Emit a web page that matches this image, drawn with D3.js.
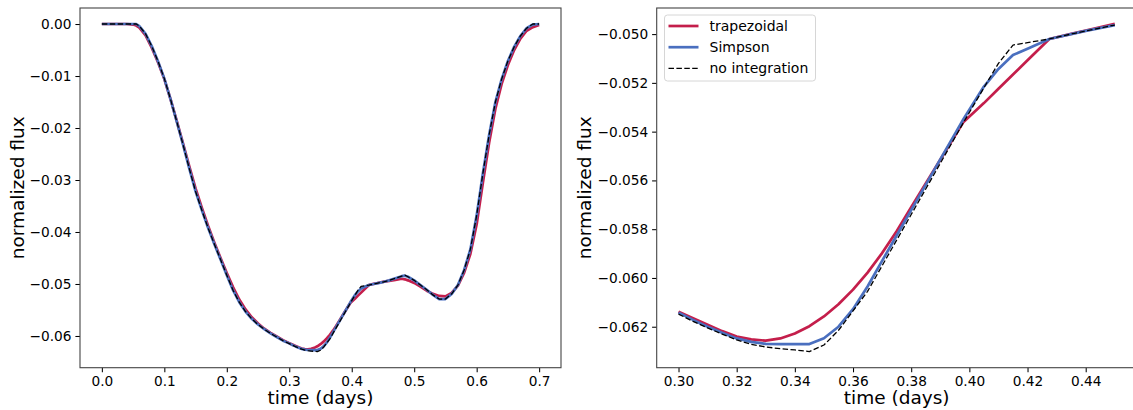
<!DOCTYPE html>
<meta charset="utf-8">
<style>

body { margin: 0; background: #fff; }
svg { font-family: "DejaVu Sans", sans-serif; }
.axis-label { font-size: 18.5px; fill: #000; }

</style>
<body>

<!-- load the d3.js library -->
<script src="https://d3js.org/d3.v7.min.js"></script>
<script>

// time grid (days) shared by the three light curves
var time = [0.00, 0.02, 0.04, 0.05, 0.055, 0.06, 0.07, 0.08, 0.09, 0.10,
  0.11, 0.12, 0.13, 0.14, 0.15, 0.16, 0.17, 0.18, 0.19, 0.20,
  0.21, 0.22, 0.23, 0.24, 0.25, 0.26, 0.27, 0.28, 0.29, 0.30,
  0.305, 0.31, 0.315, 0.32, 0.325, 0.33, 0.335, 0.34, 0.345, 0.35,
  0.355, 0.36, 0.365, 0.37, 0.375, 0.38, 0.385, 0.39, 0.395, 0.398,
  0.405, 0.41, 0.415, 0.42, 0.4275, 0.435, 0.44, 0.45, 0.46, 0.47,
  0.48, 0.485, 0.49, 0.50, 0.51, 0.52, 0.53, 0.54, 0.55, 0.56,
  0.57, 0.58, 0.59, 0.60, 0.61, 0.62, 0.63, 0.64, 0.65, 0.66,
  0.67, 0.68, 0.69, 0.70];

var trapezoidal = [0, 0, 0, -0.0001, -0.0003, -0.0007, -0.0022, -0.0046, -0.0074, -0.0106,
  -0.0145, -0.0187, -0.0230, -0.0274, -0.0316, -0.0353, -0.0388, -0.0420, -0.0450, -0.0479,
  -0.0506, -0.0530, -0.0549, -0.0564, -0.0576, -0.0586, -0.0594, -0.0601, -0.0608, -0.06138,
  -0.06165, -0.06192, -0.06218, -0.06240, -0.06252, -0.06257, -0.06248, -0.06228, -0.06198, -0.06158,
  -0.06108, -0.06048, -0.05978, -0.05898, -0.05808, -0.05710, -0.05612, -0.05515, -0.05418, -0.05360,
  -0.05283, -0.05224, -0.05166, -0.05107, -0.05020, -0.04999, -0.04986, -0.04958, -0.0494, -0.0492,
  -0.0490, -0.0491, -0.0493, -0.0498, -0.0505, -0.0513, -0.0519, -0.0523, -0.0524, -0.0517,
  -0.0503, -0.0478, -0.0442, -0.0385, -0.0305, -0.0228, -0.0163, -0.0115, -0.0079, -0.0050,
  -0.0028, -0.0013, -0.0006, -0.0002];

var simpson = [0, 0, 0, 0, 0, -0.0004, -0.0019, -0.0043, -0.0072, -0.0105,
  -0.0145, -0.0188, -0.0232, -0.0278, -0.0322, -0.0358, -0.0392, -0.0423, -0.0453, -0.0483,
  -0.0512, -0.0535, -0.0553, -0.0567, -0.0578, -0.0587, -0.0595, -0.0602, -0.0609, -0.06142,
  -0.06172, -0.06200, -0.06225, -0.06248, -0.06262, -0.06270, -0.06271, -0.06271, -0.06271, -0.06247,
  -0.06200, -0.06128, -0.06035, -0.05930, -0.05826, -0.05722, -0.05618, -0.05514, -0.05410, -0.05348,
  -0.05215, -0.05143, -0.05086, -0.05060, -0.05020, -0.05000, -0.04987, -0.04963, -0.0493, -0.0489,
  -0.0485, -0.0484, -0.0486, -0.0493, -0.0502, -0.0511, -0.0521, -0.0529, -0.0529, -0.0519,
  -0.0502, -0.0473, -0.0433, -0.0368, -0.0287, -0.0213, -0.0150, -0.0106, -0.0071, -0.0044,
  -0.0023, -0.0008, -0.0001, 0];

var noIntegration = [0, 0, 0, 0, 0, -0.0004, -0.0019, -0.0043, -0.0072, -0.0105,
  -0.0145, -0.0188, -0.0232, -0.0278, -0.0322, -0.0358, -0.0392, -0.0423, -0.0453, -0.0483,
  -0.0512, -0.0535, -0.0553, -0.0567, -0.0578, -0.0587, -0.0595, -0.0602, -0.0609, -0.06148,
  -0.06178, -0.06205, -0.06230, -0.06254, -0.06272, -0.06283, -0.06290, -0.06295, -0.06302, -0.06275,
  -0.06215, -0.06135, -0.06055, -0.05950, -0.05845, -0.05740, -0.05635, -0.05530, -0.05425, -0.05362,
  -0.05220, -0.05120, -0.05045, -0.05035, -0.05020, -0.05000, -0.04987, -0.04963, -0.0493, -0.0489,
  -0.0485, -0.0483, -0.0486, -0.0493, -0.0502, -0.0511, -0.0521, -0.0529, -0.0529, -0.0519,
  -0.0502, -0.0473, -0.0433, -0.0368, -0.0287, -0.0213, -0.0150, -0.0106, -0.0071, -0.0044,
  -0.0023, -0.0008, 0, 0];

var seriesNames = ["trapezoidal", "Simpson", "no integration"];

// tick labels
var leftXTicks = [0.0, 0.1, 0.2, 0.3, 0.4, 0.5, 0.6, 0.7];
var leftYTicks = [0.00, -0.01, -0.02, -0.03, -0.04, -0.05, -0.06];
var rightXTicks = [0.30, 0.32, 0.34, 0.36, 0.38, 0.40, 0.42, 0.44];
var rightYTicks = [-0.050, -0.052, -0.054, -0.056, -0.058, -0.060, -0.062];

var series = [
  {name: seriesNames[0], values: trapezoidal, color: "#c41e4b", width: 2.7, dash: null},
  {name: seriesNames[1], values: simpson, color: "#4a6fbf", width: 2.7, dash: null},
  {name: seriesNames[2], values: noIntegration, color: "#000", width: 1.3, dash: "5.5,2.4"}
];

var svg = d3.select("body").append("svg")
    .attr("width", 1133)
    .attr("height", 410);

function styleAxis(a) {
  a.select(".domain").remove();
  a.selectAll(".tick line").attr("stroke", "#000").attr("stroke-width", 1.05);
  a.selectAll(".tick text")
      .attr("fill", "#000")
      .style("font-family", "'DejaVu Sans', sans-serif")
      .style("font-size", "13.7px");
}

function drawPanel(opt) {
  var x = d3.scaleLinear().domain(opt.xDomain).range([opt.left, opt.right]);
  var y = d3.scaleLinear().domain(opt.yDomain).range([opt.bottom, opt.top]);
  var g = svg.append("g");

  // the curves, limited to the time range of the panel
  series.forEach(function(s) {
    var pts = time.map(function(t, i) { return {t: t, v: s.values[i]}; })
        .filter(function(d) { return d.t >= opt.tMin - 1e-9 && d.t <= opt.tMax + 1e-9; });
    g.append("path")
        .datum(pts)
        .attr("fill", "none")
        .attr("stroke", s.color)
        .attr("stroke-width", s.width)
        .attr("stroke-dasharray", s.dash)
        .attr("stroke-linejoin", "round")
        .attr("d", d3.line().x(function(d) { return x(d.t); }).y(function(d) { return y(d.v); }));
  });

  // axes
  g.append("g")
      .attr("transform", "translate(0," + opt.bottom + ")")
      .call(d3.axisBottom(x).tickValues(opt.xTicks).tickFormat(d3.format(opt.xFmt)).tickSize(4.6).tickPadding(4))
      .call(styleAxis);
  g.append("g")
      .attr("transform", "translate(" + opt.left + ",0)")
      .call(d3.axisLeft(y).tickValues(opt.yTicks).tickFormat(d3.format(opt.yFmt)).tickSize(4.6).tickPadding(4))
      .call(styleAxis);

  // frame
  g.append("rect")
      .attr("x", opt.left)
      .attr("y", opt.top)
      .attr("width", opt.right - opt.left)
      .attr("height", opt.bottom - opt.top)
      .attr("fill", "none")
      .attr("stroke", "#444")
      .attr("stroke-width", 1.1);

  g.append("text")
      .attr("class", "axis-label")
      .attr("text-anchor", "middle")
      .attr("x", (opt.left + opt.right) / 2)
      .attr("y", 403.5)
      .text("time (days)");
  g.append("text")
      .attr("class", "axis-label")
      .attr("text-anchor", "middle")
      .attr("transform", "translate(" + opt.yLabelX + "," + (opt.top + opt.bottom) / 2 + ") rotate(-90)")
      .text("normalized flux");

  if (opt.legend) {
    var lg = g.append("g");
    lg.append("rect")
        .attr("x", 664.5).attr("y", 15)
        .attr("width", 151).attr("height", 66)
        .attr("rx", 3)
        .attr("fill", "#fff")
        .attr("fill-opacity", 0.8)
        .attr("stroke", "#d6d6d6");
    series.forEach(function(s, i) {
      var yy = 26 + i * 21.2;
      lg.append("line")
          .attr("x1", 668.5).attr("x2", 698.5)
          .attr("y1", yy).attr("y2", yy)
          .attr("stroke", s.color)
          .attr("stroke-width", s.width)
          .attr("stroke-dasharray", s.dash);
      lg.append("text")
          .attr("x", 709.5)
          .attr("y", yy)
          .attr("dy", "0.35em")
          .style("font-size", "14px")
          .text(s.name);
    });
  }
}

drawPanel({
  left: 80, right: 561, top: 8, bottom: 367.7,
  xDomain: [-0.035, 0.735], yDomain: [-0.0661, 0.00308],
  xTicks: leftXTicks, yTicks: leftYTicks, xFmt: ".1f", yFmt: ".2f",
  tMin: 0, tMax: 0.7, yLabelX: 23.5, legend: false
});

drawPanel({
  left: 656.7, right: 1136.6, top: 8, bottom: 367.7,
  xDomain: [0.2925, 0.4575], yDomain: [-0.06368, -0.04893],
  xTicks: rightXTicks, yTicks: rightYTicks, xFmt: ".2f", yFmt: ".3f",
  tMin: 0.30, tMax: 0.45, yLabelX: 591, legend: true
});

</script>
</body>
